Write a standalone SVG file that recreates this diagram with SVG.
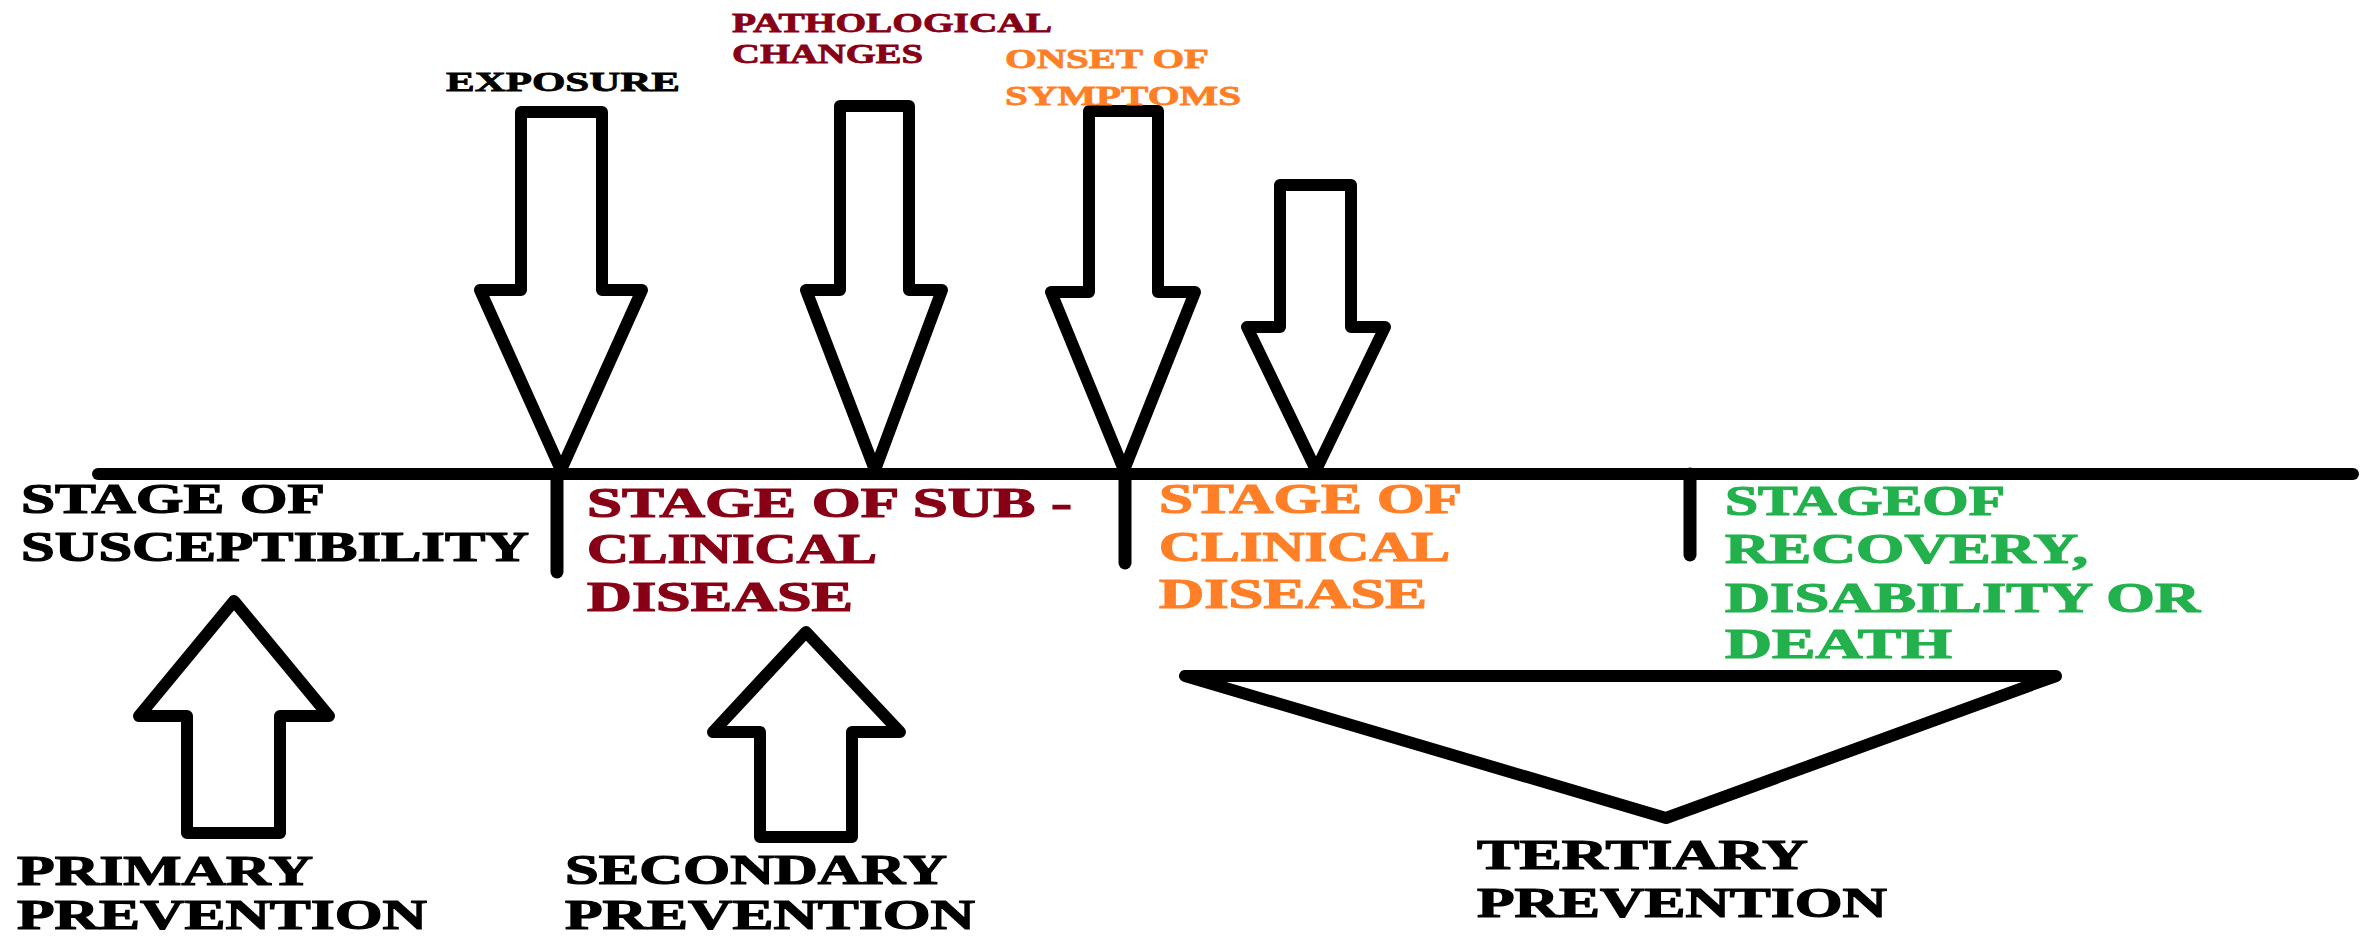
<svg xmlns="http://www.w3.org/2000/svg" width="2362" height="939" viewBox="0 0 2362 939">
<style>
.ln{fill:none;stroke:#000;stroke-width:12;stroke-linejoin:round;stroke-linecap:round}
.tk{fill:none;stroke:#000;stroke-width:13;stroke-linecap:round}
.t{font-family:"Liberation Serif","Times New Roman",serif;font-weight:bold;font-size:42px;stroke-width:1.2px}
.s{font-family:"Liberation Serif","Times New Roman",serif;font-weight:bold;font-size:28px;stroke-width:0.8px}
.k{fill:#000;stroke:#000}.m{fill:#880015;stroke:#880015}.o{fill:#FF7F27;stroke:#FF7F27}.g{fill:#22B14C;stroke:#22B14C}
</style>
<rect width="2362" height="939" fill="#fff"/>
<g id="connectors">
<line class="ln" x1="98" y1="474" x2="2353" y2="474"/>
<line class="tk" x1="557" y1="474" x2="557" y2="572"/>
<line class="tk" x1="1125" y1="474" x2="1125" y2="563"/>
<line class="tk" x1="1690" y1="474" x2="1690" y2="555"/>
</g>
<g id="arrow-exposure"><path class="ln" d="M521,112 L602,112 L602,290 L642,290 L561,470 L480,290 L521,290 Z"/></g>
<g id="arrow-pathological"><path class="ln" d="M840,106 L909,106 L909,290 L942,290 L875,470 L806,290 L840,290 Z"/></g>
<g id="arrow-onset"><path class="ln" d="M1089,111 L1158,111 L1158,292 L1195,292 L1124,470 L1051,292 L1089,292 Z"/></g>
<g id="arrow-clinical"><path class="ln" d="M1280,185 L1351,185 L1351,327 L1385,327 L1316,470 L1247,327 L1280,327 Z"/></g>
<g id="arrow-primary"><path class="ln" d="M187,833 L280,833 L280,716 L329,716 L234,601 L139,716 L187,716 Z"/></g>
<g id="arrow-secondary"><path class="ln" d="M760,837 L852,837 L852,732 L900,732 L806,632 L713,732 L760,732 Z"/></g>
<g id="tertiary-triangle"><path class="ln" d="M1185,676 L2056,676 L1666,818 Z"/></g>

<g id="label-exposure"><text class="s k" x="446" y="91" textLength="234" lengthAdjust="spacingAndGlyphs">EXPOSURE</text></g>
<g id="label-pathological">
<text class="s m" x="732" y="32" textLength="320" lengthAdjust="spacingAndGlyphs">PATHOLOGICAL</text>
<text class="s m" x="732" y="63" textLength="191" lengthAdjust="spacingAndGlyphs">CHANGES</text>
</g>
<g id="label-onset">
<text class="s o" x="1005" y="68" textLength="204" lengthAdjust="spacingAndGlyphs">ONSET OF</text>
<text class="s o" x="1005" y="105" textLength="236" lengthAdjust="spacingAndGlyphs">SYMPTOMS</text>
</g>
<g id="stage-susceptibility">
<text class="t k" x="21" y="513" textLength="304" lengthAdjust="spacingAndGlyphs">STAGE OF</text>
<text class="t k" x="21" y="561" textLength="508" lengthAdjust="spacingAndGlyphs">SUSCEPTIBILITY</text>
</g>
<g id="stage-subclinical">
<text class="t m" x="587" y="517" textLength="485" lengthAdjust="spacingAndGlyphs">STAGE OF SUB -</text>
<text class="t m" x="587" y="563" textLength="290" lengthAdjust="spacingAndGlyphs">CLINICAL</text>
<text class="t m" x="587" y="611" textLength="266" lengthAdjust="spacingAndGlyphs">DISEASE</text>
</g>
<g id="stage-clinical">
<text class="t o" x="1159" y="513" textLength="303" lengthAdjust="spacingAndGlyphs">STAGE OF</text>
<text class="t o" x="1159" y="561" textLength="291" lengthAdjust="spacingAndGlyphs">CLINICAL</text>
<text class="t o" x="1159" y="608" textLength="268" lengthAdjust="spacingAndGlyphs">DISEASE</text>
</g>
<g id="stage-recovery">
<text class="t g" x="1725" y="515" textLength="280" lengthAdjust="spacingAndGlyphs">STAGEOF</text>
<text class="t g" x="1725" y="563" textLength="363" lengthAdjust="spacingAndGlyphs">RECOVERY,</text>
<text class="t g" x="1725" y="612" textLength="475" lengthAdjust="spacingAndGlyphs">DISABILITY OR</text>
<text class="t g" x="1725" y="658" textLength="227" lengthAdjust="spacingAndGlyphs">DEATH</text>
</g>
<g id="label-primary">
<text class="t k" x="17" y="885" textLength="296" lengthAdjust="spacingAndGlyphs">PRIMARY</text>
<text class="t k" x="17" y="929" textLength="410" lengthAdjust="spacingAndGlyphs">PREVENTION</text>
</g>
<g id="label-secondary">
<text class="t k" x="565" y="884" textLength="382" lengthAdjust="spacingAndGlyphs">SECONDARY</text>
<text class="t k" x="565" y="929" textLength="410" lengthAdjust="spacingAndGlyphs">PREVENTION</text>
</g>
<g id="label-tertiary">
<text class="t k" x="1477" y="869" textLength="331" lengthAdjust="spacingAndGlyphs">TERTIARY</text>
<text class="t k" x="1477" y="917" textLength="410" lengthAdjust="spacingAndGlyphs">PREVENTION</text>
</g>
</svg>
